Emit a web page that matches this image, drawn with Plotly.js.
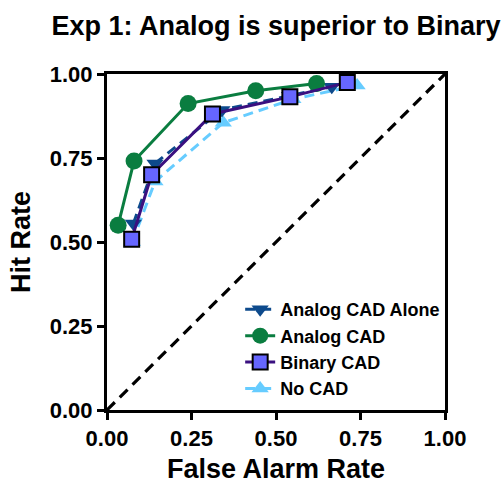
<!DOCTYPE html>
<html>
<head>
<meta charset="utf-8">
<script src="https://cdn.plot.ly/plotly-3.0.1.min.js"></script>
<style>html,body{margin:0;padding:0;background:#fff}#chart{width:504px;height:484px}</style>
</head>
<body>
<div id="chart"></div>
<script>
// Data
const diagX = [0, 1];
const diagY = [0, 1];

const aloneFA  = [0.078, 0.142, 0.34, 0.54, 0.665];
const aloneHit = [0.555, 0.734, 0.893, 0.935, 0.962];

const analogFA  = [0.033, 0.08, 0.24, 0.44, 0.62];
const analogHit = [0.55, 0.741, 0.912, 0.95, 0.972];

const binaryFA  = [0.073, 0.132, 0.312, 0.541, 0.711];
const binaryHit = [0.508, 0.70, 0.881, 0.932, 0.975];

const noFA  = [0.075, 0.142, 0.344, 0.55, 0.74];
const noHit = [0.50, 0.68, 0.855, 0.925, 0.966];

const tickVals = [0, 0.25, 0.5, 0.75, 1];
const tickText = ['0.00', '0.25', '0.50', '0.75', '1.00'];

const F = 'Liberation Sans, Arial, sans-serif';

const traces = [
  {x: diagX, y: diagY, mode: 'lines', showlegend: false, hoverinfo: 'skip',
   line: {color: '#000', width: 3.2, dash: '11px,7px'}},
  {x: noFA, y: noHit, name: 'No CAD', mode: 'lines+markers', legendrank: 4,
   line: {color: '#66ccff', width: 3, dash: '10px,6px'},
   marker: {symbol: 'triangle-up', size: 15, color: '#66ccff'}},
  {x: aloneFA, y: aloneHit, name: 'Analog CAD Alone', mode: 'lines+markers', legendrank: 1,
   line: {color: '#0d4a8c', width: 3, dash: '10px,6px'},
   marker: {symbol: 'triangle-down', size: 15, color: '#0d4a8c'}},
  {x: analogFA, y: analogHit, name: 'Analog CAD', mode: 'lines+markers', legendrank: 2,
   line: {color: '#0a7d40', width: 3},
   marker: {symbol: 'circle', size: 17, color: '#0a7d40'}},
  {x: binaryFA, y: binaryHit, name: 'Binary CAD', mode: 'lines+markers', legendrank: 3,
   line: {color: '#3a1080', width: 3},
   marker: {symbol: 'square', size: 15, color: '#6666ff', line: {color: '#000', width: 2}}}
];

const axisCommon = {
  range: [0, 1], tickvals: tickVals, ticktext: tickText,
  showgrid: false, zeroline: false,
  showline: true, linecolor: '#000', linewidth: 3, mirror: true,
  ticks: 'outside', ticklen: 7, tickwidth: 3, tickcolor: '#000',
  tickfont: {family: F, size: 22, color: '#000', weight: 'bold'}
};

const layout = {
  width: 504, height: 484,
  margin: {l: 107, r: 59, t: 74, b: 74},
  paper_bgcolor: '#fff', plot_bgcolor: '#fff',
  title: {text: '<b>Exp 1: Analog is superior to Binary</b>', font: {family: F, size: 27, color: '#000'},
          x: 0.5, xref: 'paper', xanchor: 'center', y: 0.947, yref: 'container', yanchor: 'middle'},
  xaxis: Object.assign({}, axisCommon, {
    title: {text: '<b>False Alarm Rate</b>', font: {family: F, size: 27, color: '#000'}, standoff: 21}
  }),
  yaxis: Object.assign({}, axisCommon, {
    title: {text: '<b>Hit Rate</b>', font: {family: F, size: 27, color: '#000'}, standoff: 12}
  }),
  showlegend: true,
  legend: {x: 0.394, y: 0.354, xanchor: 'left', yanchor: 'top', bgcolor: 'rgba(0,0,0,0)',
           font: {family: F, size: 18, color: '#000', weight: 'bold'},
           tracegroupgap: 0, itemwidth: 30},
  hovermode: false
};

Plotly.newPlot('chart', traces, layout, {displayModeBar: false, staticPlot: true});
</script>
</body>
</html>
